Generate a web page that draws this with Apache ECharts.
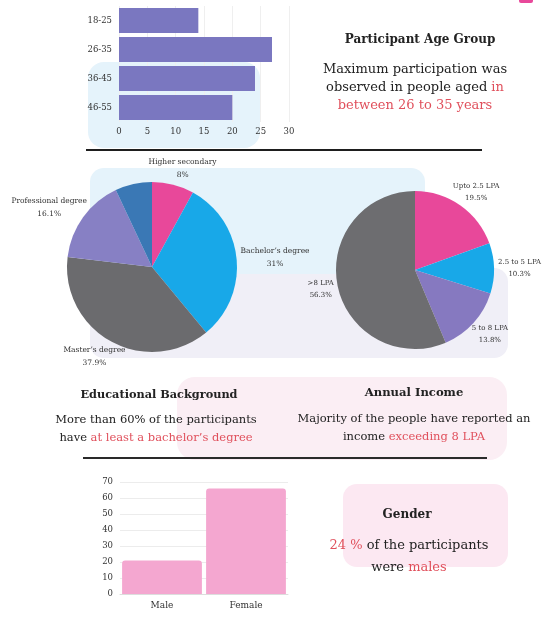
<!DOCTYPE html>
<html>
<head>
<meta charset="utf-8">
<script src="https://cdn.jsdelivr.net/npm/echarts@6/dist/echarts.min.js"></script>
<style>
html,body{margin:0;padding:0;background:#fff;}
#chart{width:544px;height:623px;}
</style>
</head>
<body>
<div id="chart"></div>
<script>
// ---- data ----
const ageGroups = ['18-25', '26-35', '36-45', '46-55'];
const ageCounts = [14, 27, 24, 20];

const eduLevels = ['Higher secondary', 'Bachelor’s degree', 'Master’s degree', 'Professional degree', 'Other'];
const eduShares = [8, 31, 37.9, 16.1, 7];
const eduShowLabel = [true, true, true, true, false];

const incomeLevels = ['Upto 2.5 LPA', '2.5 to 5 LPA', '5 to 8 LPA', '>8 LPA'];
const incomeShares = [19.5, 10.3, 13.8, 56.3];

const genders = ['Male', 'Female'];
const genderCounts = [21, 66];

// ---- styling ----
const SERIF = 'DejaVu Serif';
const RED = '#e0505c';
const INK = '#222';

const eduColors = ['#e8489a', '#18a8e8', '#6b6b6e', '#8780c4', '#3a78b5'];
const incomeColors = ['#e8489a', '#18a8e8', '#8679c0', '#6d6d70'];

function midDirs(values) {
  const total = values.reduce((a, b) => a + b, 0);
  let acc = 0;
  return values.map(v => {
    const mid = (acc + v / 2) / total * Math.PI * 2;
    acc += v;
    return [Math.sin(mid), -Math.cos(mid)];
  });
}

function pieLabelLayout(values, cx, cy, r, gap) {
  const dirs = midDirs(values);
  return function (params) {
    const d = dirs[params.dataIndex];
    const w = params.labelRect.width, h = params.labelRect.height;
    return {
      x: cx + d[0] * (r + gap) + d[0] * w / 2,
      y: cy + d[1] * (r + gap) + d[1] * h / 2,
      align: 'center',
      verticalAlign: 'middle'
    };
  };
}

const chart = echarts.init(document.getElementById('chart'), null, {renderer: 'canvas'});

const EDU_C = [152, 267], EDU_R = 85;
const INC_C = [415, 270], INC_R = 79;

function textBlock(x, y, text, size, lh, bold) {
  return {
    type: 'text', x: x, y: y, z: 100,
    style: {
      text: text,
      align: 'center', verticalAlign: 'top',
      fill: INK,
      font: (bold ? 'bold ' : '') + size + 'px "' + SERIF + '"',
      lineHeight: lh,
      rich: {
        k: {fill: INK, fontFamily: SERIF, fontSize: size, fontWeight: bold ? 'bold' : 'normal', lineHeight: lh},
        r: {fill: RED, fontFamily: SERIF, fontSize: size, fontWeight: bold ? 'bold' : 'normal', lineHeight: lh}
      }
    }
  };
}

const option = {
  backgroundColor: '#ffffff',
  animation: false,
  graphic: [
    // decorative backgrounds
    {type: 'rect', z: -10, shape: {x: 88, y: 62, width: 172, height: 86, r: 16}, style: {fill: '#e5f3fb'}},
    {type: 'rect', z: -10, shape: {x: 90, y: 268, width: 418, height: 90, r: 14}, style: {fill: '#f0eff7'}},
    {type: 'rect', z: -9, shape: {x: 90, y: 168, width: 335, height: 106, r: 14}, style: {fill: '#e5f3fb'}},
    {type: 'rect', z: -10, shape: {x: 177, y: 377, width: 330, height: 83, r: 18}, style: {fill: '#fbeef4'}},
    {type: 'rect', z: -10, shape: {x: 343, y: 484, width: 165, height: 83, r: 14}, style: {fill: '#fce8f2'}},
    {type: 'rect', z: -10, shape: {x: 519, y: -4, width: 14, height: 7, r: 2}, style: {fill: '#e8489a'}},
    // separator lines
    {type: 'line', z: 50, shape: {x1: 86, y1: 150, x2: 482, y2: 150}, style: {stroke: '#1e1e1e', lineWidth: 2}},
    {type: 'line', z: 50, shape: {x1: 83, y1: 458, x2: 487, y2: 458}, style: {stroke: '#2a2a2a', lineWidth: 2}},
    // texts
    textBlock(420, 32, 'Participant Age Group', 12, 16, true),
    textBlock(415, 61, '{k|Maximum participation was}\n{k|observed in people aged }{r|in}\n{r|between 26 to 35 years}', 13, 18, false),
    textBlock(159, 387, 'Educational Background', 11.3, 16, true),
    textBlock(156, 411, '{k|More than 60% of the participants}\n{k|have }{r|at least a bachelor’s degree}', 11.5, 18, false),
    textBlock(414, 385, 'Annual Income', 11.6, 16, true),
    textBlock(414, 410, '{k|Majority of the people have reported an}\n{k|income }{r|exceeding 8 LPA}', 11.5, 18, false),
    textBlock(407, 507, 'Gender', 12, 16, true),
    textBlock(409, 535, '{r|24 %}{k| of the participants}\n{k|were }{r|males}', 13, 22, false)
  ],
  grid: [
    {left: 119, width: 170, top: 6, height: 116},
    {left: 120, width: 168, top: 482, height: 112}
  ],
  xAxis: [
    {
      gridIndex: 0, type: 'value', min: 0, max: 30, interval: 5,
      axisLine: {show: false}, axisTick: {show: false},
      splitLine: {show: true, lineStyle: {color: '#efefef', width: 1}},
      axisLabel: {fontFamily: SERIF, fontSize: 8.5, color: '#333', margin: 5}
    },
    {
      gridIndex: 1, type: 'category', data: genders,
      axisLine: {show: true, lineStyle: {color: '#dddddd'}}, axisTick: {show: false},
      axisLabel: {fontFamily: SERIF, fontSize: 9, color: '#333', margin: 7}
    }
  ],
  yAxis: [
    {
      gridIndex: 0, type: 'category', data: ageGroups, inverse: true,
      axisLine: {show: false}, axisTick: {show: false}, splitLine: {show: false},
      axisLabel: {fontFamily: SERIF, fontSize: 8.5, color: '#333', margin: 7}
    },
    {
      gridIndex: 1, type: 'value', min: 0, max: 70, interval: 10,
      axisLine: {show: false}, axisTick: {show: false},
      splitLine: {show: true, lineStyle: {color: '#ececec', width: 1}},
      axisLabel: {fontFamily: SERIF, fontSize: 8.5, color: '#333', margin: 7}
    }
  ],
  series: [
    {
      type: 'bar', xAxisIndex: 0, yAxisIndex: 0, data: ageCounts,
      barCategoryGap: '14%',
      itemStyle: {color: '#7a77c0', borderRadius: 0}
    },
    {
      type: 'bar', xAxisIndex: 1, yAxisIndex: 1, data: genderCounts,
      barCategoryGap: '5%',
      itemStyle: {color: '#f4a7d0', borderRadius: [3, 3, 0, 0]}
    },
    {
      type: 'pie', center: EDU_C, radius: [0, EDU_R], startAngle: 90, clockwise: true,
      avoidLabelOverlap: false,
      data: eduLevels.map((n, i) => ({
        name: n, value: eduShares[i],
        itemStyle: {color: eduColors[i]},
        label: {show: eduShowLabel[i]}
      })),
      itemStyle: {borderWidth: 0},
      label: {
        show: true, position: 'outside', formatter: '{b}\n{c}%',
        fontFamily: SERIF, fontSize: 7.5, lineHeight: 13, color: '#333'
      },
      labelLine: {show: false, length: 5, length2: 0},
      labelLayout: pieLabelLayout(eduShares, EDU_C[0], EDU_C[1], EDU_R, 4),
      emphasis: {disabled: true}
    },
    {
      type: 'pie', center: INC_C, radius: [0, INC_R], startAngle: 90, clockwise: true,
      avoidLabelOverlap: false,
      data: incomeLevels.map((n, i) => ({
        name: n, value: incomeShares[i],
        itemStyle: {color: incomeColors[i]}
      })),
      itemStyle: {borderWidth: 0},
      label: {
        show: true, position: 'outside', formatter: '{b}\n{c}%',
        fontFamily: SERIF, fontSize: 7, lineHeight: 12, color: '#333'
      },
      labelLine: {show: false, length: 5, length2: 0},
      labelLayout: pieLabelLayout(incomeShares, INC_C[0], INC_C[1], INC_R, 4),
      emphasis: {disabled: true}
    }
  ]
};
chart.setOption(option);
</script>
</body>
</html>
